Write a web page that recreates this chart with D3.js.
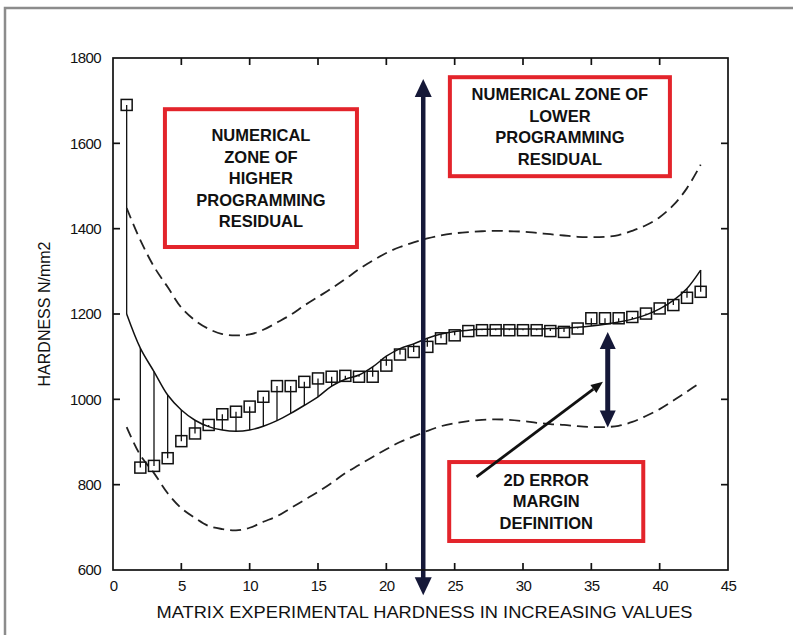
<!DOCTYPE html>
<html>
<head>
<meta charset="utf-8">
<script src="https://cdn.jsdelivr.net/npm/d3@7"></script>
<style>
  body { margin: 0; background: #fff; }
  text { font-family: "Liberation Sans", Arial, sans-serif; fill: #111; }
</style>
</head>
<body>
<div id="chart"></div>
<script>
// Measured hardness for each sample (sorted), x = 1..43
const sampleIdx = d3.range(1, 44);
const measured = [1690, 840, 844, 862, 902, 920, 940, 965, 971, 983, 1006, 1031, 1031, 1041, 1049,
  1053, 1055, 1053, 1053, 1079, 1105, 1111, 1123, 1143, 1150, 1160, 1162, 1162, 1162, 1162,
  1162, 1160, 1158, 1166, 1190, 1190, 1190, 1193, 1201, 1213, 1221, 1238, 1252];
// Fitted (programmed) curve
const fitted = [1200, 1120, 1065, 1010, 975, 951, 936, 928, 925, 928, 937, 950, 967, 986, 1006,
  1031, 1047, 1057, 1076, 1101, 1119, 1130, 1143, 1153, 1159, 1162, 1164, 1165, 1165, 1165,
  1165, 1166, 1167, 1169, 1172, 1176, 1181, 1188, 1198, 1212, 1232, 1260, 1303];
// Upper / lower error margin (dashed)
const upperBound = [1448, 1373, 1311, 1263, 1215, 1185, 1165, 1153, 1150, 1152, 1163, 1180, 1198, 1220, 1240,
  1260, 1282, 1305, 1325, 1343, 1357, 1368, 1377, 1384, 1389, 1392, 1394, 1395, 1394, 1393,
  1390, 1387, 1384, 1381, 1380, 1381, 1385, 1395, 1408, 1427, 1455, 1495, 1550];
const lowerBound = [935, 869, 827, 780, 745, 722, 703, 696, 693, 699, 713, 726, 745, 764, 783,
  804, 827, 846, 865, 883, 900, 913, 926, 937, 944, 949, 952, 953, 952, 949,
  945, 942, 940, 937, 935, 935, 938, 947, 961, 977, 997, 1018, 1040];

const xTicks = [0, 5, 10, 15, 20, 25, 30, 35, 40, 45];
const yTicks = [600, 800, 1000, 1200, 1400, 1600, 1800];

// annotation boxes in data units
const boxes = [
  { x0: 3.8, x1: 17.85, y0: 1680, y1: 1357, lines: ["NUMERICAL", "ZONE OF", "HIGHER", "PROGRAMMING", "RESIDUAL"] },
  { x0: 24.65, x1: 40.75, y0: 1755, y1: 1523, lines: ["NUMERICAL ZONE OF", "LOWER", "PROGRAMMING", "RESIDUAL"] },
  { x0: 24.6, x1: 38.8, y0: 853, y1: 668, lines: ["2D ERROR", "MARGIN", "DEFINITION"] }
];

const width = 793, height = 635;
const margin = { top: 58, right: 65, bottom: 65, left: 113 };

const svg = d3.select("#chart").append("svg")
  .attr("width", width)
  .attr("height", height);

// outer frame of the figure
svg.append("rect")
  .attr("x", 5).attr("y", 8)
  .attr("width", 900).attr("height", 900)
  .attr("fill", "none")
  .attr("stroke", "#8c8c8c")
  .attr("stroke-width", 2.5);

const x = d3.scaleLinear().domain([0, 45]).range([margin.left, width - margin.right]);
const y = d3.scaleLinear().domain([600, 1800]).range([height - margin.bottom, margin.top]);
const ink = "#111";

const g = svg.append("g");

// tick labels from d3 axes (box and inward ticks drawn at the end)
const tickFont = sel => sel.selectAll("text").style("font-size", "15px").style("letter-spacing", "-0.6px");

g.append("g")
  .attr("transform", `translate(0,${y(600)})`)
  .call(d3.axisBottom(x).tickValues(xTicks).tickFormat(d3.format("d")).tickSize(0).tickPadding(10))
  .call(tickFont)
  .call(a => a.select(".domain").remove());

g.append("g")
  .attr("transform", `translate(${x(0)},0)`)
  .call(d3.axisLeft(y).tickValues(yTicks).tickFormat(d3.format("d")).tickSize(0).tickPadding(12))
  .call(tickFont)
  .call(a => a.select(".domain").remove());

// axis titles
svg.append("text")
  .attr("x", (x(0) + x(45)) / 2 + 4)
  .attr("y", 618)
  .attr("text-anchor", "middle")
  .attr("textLength", 536)
  .attr("lengthAdjust", "spacingAndGlyphs")
  .style("font-size", "16px")
  .text("MATRIX EXPERIMENTAL HARDNESS IN INCREASING VALUES");

svg.append("text")
  .attr("transform", `translate(50,${(y(600) + y(1800)) / 2}) rotate(-90)`)
  .attr("text-anchor", "middle")
  .style("font-size", "16px")
  .text("HARDNESS N/mm2");

const plot = svg.append("g");

// residual stems
plot.selectAll(".stem")
  .data(sampleIdx)
  .join("line")
  .attr("class", "stem")
  .attr("x1", i => x(i)).attr("x2", i => x(i))
  .attr("y1", (i, k) => y(measured[k]))
  .attr("y2", (i, k) => y(fitted[k]))
  .attr("stroke", ink)
  .attr("stroke-width", 1.3);

const line = arr => d3.line()
  .x((d, k) => x(sampleIdx[k]))
  .y(d => y(d))
  .curve(d3.curveCatmullRom)(arr);

plot.append("path").attr("d", line(fitted))
  .attr("fill", "none").attr("stroke", ink).attr("stroke-width", 1.5);

[upperBound, lowerBound].forEach(arr => {
  plot.append("path").attr("d", line(arr))
    .attr("fill", "none").attr("stroke", "#222").attr("stroke-width", 1.8)
    .attr("stroke-dasharray", "11,6");
});

// square markers
plot.selectAll(".mk")
  .data(sampleIdx)
  .join("rect")
  .attr("class", "mk")
  .attr("x", i => x(i) - 5.5)
  .attr("y", (i, k) => y(measured[k]) - 5.5)
  .attr("width", 11).attr("height", 11)
  .attr("fill", "none")
  .attr("stroke", ink)
  .attr("stroke-width", 1.5);

// annotation boxes
boxes.forEach(b => {
  const bx = x(b.x0), by = y(b.y0), bw = x(b.x1) - x(b.x0), bh = y(b.y1) - y(b.y0);
  svg.append("rect")
    .attr("x", bx).attr("y", by).attr("width", bw).attr("height", bh)
    .attr("fill", "#fff")
    .attr("stroke", "#e3242b")
    .attr("stroke-width", 4);
  const lh = 21.5;
  const top = by + bh / 2 - (b.lines.length - 1) * lh / 2;
  b.lines.forEach((t, k) => {
    svg.append("text")
      .attr("x", bx + bw / 2)
      .attr("y", top + k * lh)
      .attr("dy", "0.36em")
      .attr("text-anchor", "middle")
      .style("font-size", "16.5px")
      .style("font-weight", "bold")
      .text(t);
  });
});

// double-headed navy arrows
const navy = "#151838";
function doubleArrow(xv, yTop, yBot, shaft, headW, headH) {
  const px = x(xv), t = y(yTop), b = y(yBot);
  svg.append("line")
    .attr("x1", px).attr("x2", px)
    .attr("y1", t + headH - 2).attr("y2", b - headH + 2)
    .attr("stroke", navy).attr("stroke-width", shaft);
  svg.append("path")
    .attr("d", `M${px},${t} L${px - headW / 2},${t + headH} L${px + headW / 2},${t + headH} Z`)
    .attr("fill", navy);
  svg.append("path")
    .attr("d", `M${px},${b} L${px - headW / 2},${b - headH} L${px + headW / 2},${b - headH} Z`)
    .attr("fill", navy);
}
doubleArrow(22.7, 1751, 541, 4.5, 17, 18);
doubleArrow(36.2, 1158, 934, 5, 16, 17);

// black pointer arrow from the error box
const a0 = [x(26.6), y(818)], a1 = [x(35.85), y(1041)];
const ang = Math.atan2(a1[1] - a0[1], a1[0] - a0[0]);
const hl = 12, hw = 5;
const base = [a1[0] - hl * Math.cos(ang), a1[1] - hl * Math.sin(ang)];
svg.append("line")
  .attr("x1", a0[0]).attr("y1", a0[1])
  .attr("x2", base[0]).attr("y2", base[1])
  .attr("stroke", ink).attr("stroke-width", 2.8);
svg.append("path")
  .attr("d", `M${a1[0]},${a1[1]}
    L${base[0] + hw * Math.sin(ang)},${base[1] - hw * Math.cos(ang)}
    L${base[0] - hw * Math.sin(ang)},${base[1] + hw * Math.cos(ang)} Z`)
  .attr("fill", ink);

// axes box with inward ticks, on top
const axG = svg.append("g");
axG.append("rect")
  .attr("x", x(0)).attr("y", y(1800))
  .attr("width", x(45) - x(0)).attr("height", y(600) - y(1800))
  .attr("fill", "none").attr("stroke", ink).attr("stroke-width", 1.7);

const tk = 7;
xTicks.slice(1, -1).forEach(v => {
  axG.append("line").attr("x1", x(v)).attr("x2", x(v)).attr("y1", y(600)).attr("y2", y(600) - tk)
    .attr("stroke", ink).attr("stroke-width", 1.7);
  axG.append("line").attr("x1", x(v)).attr("x2", x(v)).attr("y1", y(1800)).attr("y2", y(1800) + tk)
    .attr("stroke", ink).attr("stroke-width", 1.7);
});
yTicks.slice(1, -1).forEach(v => {
  axG.append("line").attr("x1", x(0)).attr("x2", x(0) + tk).attr("y1", y(v)).attr("y2", y(v))
    .attr("stroke", ink).attr("stroke-width", 1.7);
  axG.append("line").attr("x1", x(45)).attr("x2", x(45) - tk).attr("y1", y(v)).attr("y2", y(v))
    .attr("stroke", ink).attr("stroke-width", 1.7);
});
</script>
</body>
</html>
